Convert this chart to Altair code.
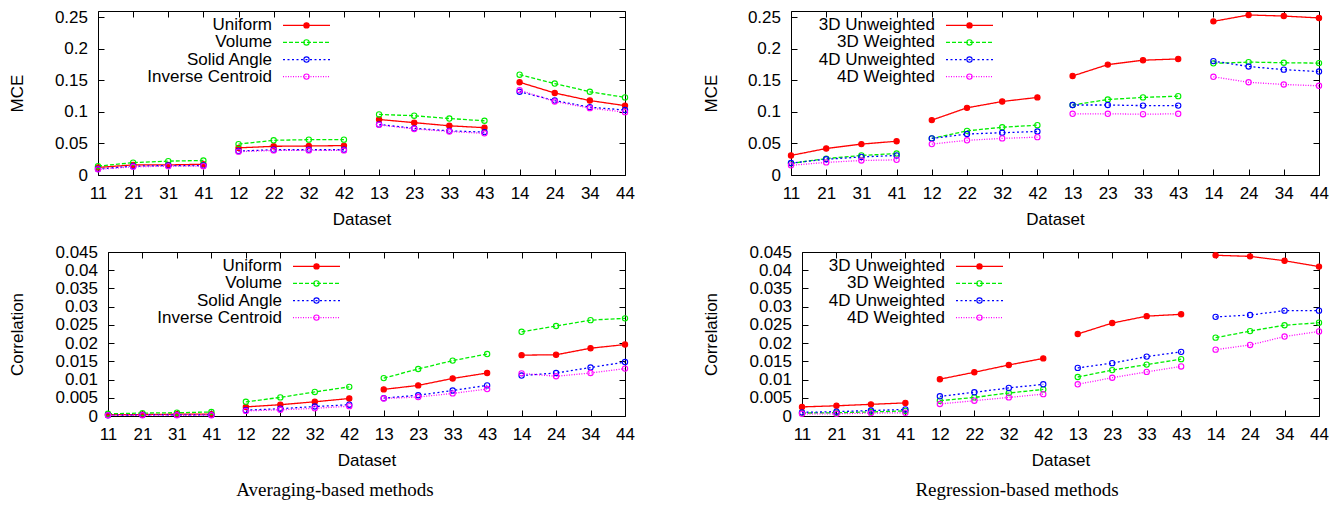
import altair as alt
import pandas as pd

# Dataset ids along the x axis; the second digit is the block that a line segment belongs to
datasets = ["11", "21", "31", "41", "12", "22", "32", "42",
            "13", "23", "33", "43", "14", "24", "34", "44"]

avg_names = ["Uniform", "Volume", "Solid Angle", "Inverse Centroid"]
reg_names = ["3D Unweighted", "3D Weighted", "4D Unweighted", "4D Weighted"]

# Averaging-based methods, MCE
uniform_mce = [0.012, 0.016, 0.016, 0.017, 0.043, 0.0455, 0.046, 0.0466,
               0.088, 0.083, 0.078, 0.075, 0.147, 0.130, 0.118, 0.110]
volume_mce = [0.014, 0.0196, 0.022, 0.023, 0.049, 0.055, 0.056, 0.056,
              0.096, 0.094, 0.0895, 0.086, 0.159, 0.145, 0.132, 0.123]
solid_mce = [0.0095, 0.014, 0.015, 0.015, 0.038, 0.040, 0.040, 0.040,
             0.080, 0.074, 0.070, 0.068, 0.132, 0.118, 0.1075, 0.103]
inverse_mce = [0.009, 0.013, 0.014, 0.014, 0.037, 0.039, 0.039, 0.039,
               0.0795, 0.073, 0.069, 0.066, 0.1345, 0.1165, 0.106, 0.0996]

# Regression-based methods, MCE
u3_mce = [0.031, 0.042, 0.049, 0.0535, 0.087, 0.1065, 0.1165, 0.123,
          0.157, 0.175, 0.182, 0.184, 0.2436, 0.2537, 0.252, 0.249]
w3_mce = [0.0185, 0.026, 0.031, 0.034, 0.058, 0.070, 0.0757, 0.079,
          0.111, 0.1197, 0.123, 0.125, 0.177, 0.179, 0.178, 0.1774]
u4_mce = [0.019, 0.025, 0.0286, 0.031, 0.058, 0.065, 0.067, 0.069,
          0.111, 0.111, 0.110, 0.110, 0.1806, 0.172, 0.167, 0.164]
w4_mce = [0.0153, 0.020, 0.023, 0.024, 0.049, 0.055, 0.058, 0.060,
          0.097, 0.097, 0.0964, 0.097, 0.1557, 0.147, 0.1435, 0.1414]

# Averaging-based methods, correlation
uniform_corr = [0.0004, 0.0004, 0.0005, 0.0005, 0.0025, 0.0031, 0.0039, 0.0048,
                0.0073, 0.0084, 0.0103, 0.0118, 0.0167, 0.0168, 0.0186, 0.0196]
volume_corr = [0.0006, 0.0008, 0.0009, 0.0011, 0.0039, 0.0051, 0.0066, 0.0080,
               0.0104, 0.0129, 0.0152, 0.0170, 0.0231, 0.0247, 0.0263, 0.0268]
solid_corr = [0.0002, 0.0003, 0.0003, 0.0003, 0.0016, 0.0020, 0.0026, 0.0031,
              0.0049, 0.0057, 0.0070, 0.0084, 0.0111, 0.0118, 0.0133, 0.0148]
inverse_corr = [0.0002, 0.0002, 0.0002, 0.0002, 0.0014, 0.0017, 0.0021, 0.0027,
                0.0048, 0.0052, 0.0062, 0.0074, 0.0117, 0.0109, 0.0118, 0.0130]

# Regression-based methods, correlation
u3_corr = [0.0025, 0.0028, 0.0032, 0.0036, 0.0101, 0.0120, 0.0140, 0.0158,
           0.0225, 0.0255, 0.0274, 0.0279, 0.0441, 0.0438, 0.0426, 0.0410]
w3_corr = [0.0008, 0.0009, 0.0011, 0.0014, 0.0042, 0.0051, 0.0063, 0.0073,
           0.0107, 0.0126, 0.0141, 0.0156, 0.0215, 0.0233, 0.0249, 0.0256]
u4_corr = [0.0010, 0.0012, 0.0015, 0.0018, 0.0054, 0.0065, 0.0077, 0.0087,
           0.0132, 0.0145, 0.0163, 0.0176, 0.0272, 0.0277, 0.0289, 0.0289]
w4_corr = [0.0006, 0.0006, 0.0008, 0.0009, 0.0033, 0.0042, 0.0051, 0.0060,
           0.0087, 0.0105, 0.0121, 0.0136, 0.0182, 0.0195, 0.0218, 0.0232]

mce_ticks = [0, 0.05, 0.1, 0.15, 0.2, 0.25]
corr_ticks = [0, 0.005, 0.01, 0.015, 0.02, 0.025, 0.03, 0.035, 0.04, 0.045]

colors = ["#ff0000", "#00ee00", "#0000ff", "#ff00ff"]
dashes = [[1, 0], [4, 2], [2, 2.5], [1, 1.5]]
fills = ["#ff0000", "transparent", "transparent", "transparent"]

FONT = "Liberation Sans"
SERIF = "Liberation Serif"
H = 164


def long_table(names, series):
    rows = []
    for name, vals in zip(names, series):
        for ds, v in zip(datasets, vals):
            rows.append({"series": name, "dataset": ds, "block": ds[1], "value": v})
    return pd.DataFrame(rows)


def panel(names, series, y_title, y_max, y_ticks, width, title_x, key_right,
          caption=None, caption_dx=0):
    df = long_table(names, series)
    color = alt.Color("series:N", scale=alt.Scale(domain=names, range=colors), legend=None)
    dash = alt.StrokeDash("series:N", scale=alt.Scale(domain=names, range=dashes), legend=None)
    fill = alt.Fill("series:N", scale=alt.Scale(domain=names, range=fills), legend=None)

    x = alt.X(
        "dataset:O", sort=datasets,
        scale=alt.Scale(type="point", padding=0),
        axis=alt.Axis(
            title="Dataset", grid=True, gridDash=[6, H - 12], gridColor="black",
            gridWidth=1, gridOpacity=1, domain=False, ticks=False, tickSize=0,
            labelAngle=0, labelPadding=23.5, labelBaseline="alphabetic",
            labelOverlap=False, titleY=49, titleBaseline="alphabetic",
        ),
    )
    y_scale = alt.Scale(domain=[0, y_max], nice=False, zero=True)
    y = alt.Y(
        "value:Q", scale=y_scale,
        axis=alt.Axis(
            values=y_ticks, format="~g", title=y_title, grid=True,
            gridDash=[6, width - 12], gridColor="black", gridWidth=1, gridOpacity=1,
            domain=False, ticks=False, tickSize=0, labelPadding=10.5,
            labelOverlap=False, titleX=title_x, titleY=H / 2,
            titleBaseline="middle", titleAngle=270,
        ),
    )
    y_plain = alt.Y("value:Q", scale=y_scale, axis=None)

    base = alt.Chart(df)
    lines = base.mark_line(strokeWidth=1.3).encode(
        x=x, y=y, color=color, strokeDash=dash, detail="block:N")
    points = base.mark_point(shape="circle", size=28, strokeWidth=1.1,
                             filled=False, opacity=1).encode(
        x=x, y=y_plain, color=color, fill=fill)

    # key in the upper right corner: label, line sample, marker
    key = alt.Chart(pd.DataFrame({"series": names}))
    ky = alt.Y("series:N", sort=names,
               scale=alt.Scale(type="point", domain=names, range=[14.4, 65.6], padding=0),
               axis=None)
    key_text = key.mark_text(align="right", baseline="middle", font=FONT,
                             fontSize=17, color="black").encode(
        x=alt.value(key_right), y=ky, text="series:N")
    key_line = key.mark_rule(strokeWidth=1.3).encode(
        x=alt.value(key_right + 11), x2=alt.value(key_right + 58), y=ky,
        color=color, strokeDash=dash)
    key_mark = key.mark_point(shape="circle", size=28, strokeWidth=1.1,
                              filled=False, opacity=1).encode(
        x=alt.value(key_right + 34.5), y=ky, color=color, fill=fill)

    chart = alt.layer(lines, points, key_line, key_mark, key_text).resolve_scale(
        y="independent").properties(width=width, height=H)
    if caption:
        chart = chart.properties(title=alt.TitleParams(
            text=caption, orient="bottom", anchor="middle", frame="group",
            font=SERIF, fontSize=19, fontWeight="normal", color="black",
            baseline="alphabetic", offset=28, dx=caption_dx))
    return chart


tl = panel(avg_names, [uniform_mce, volume_mce, solid_mce, inverse_mce],
           "MCE", 0.26, mce_ticks, 527, -81, 174)
tr = panel(reg_names, [u3_mce, w3_mce, u4_mce, w4_mce],
           "MCE", 0.26, mce_ticks, 528, -80, 144)
bl = panel(avg_names, [uniform_corr, volume_corr, solid_corr, inverse_corr],
           "Correlation", 0.045, corr_ticks, 517, -91, 174,
           caption="Averaging-based methods", caption_dx=-31.5)
br = panel(reg_names, [u3_corr, w3_corr, u4_corr, w4_corr],
           "Correlation", 0.045, corr_ticks, 517, -91, 143,
           caption="Regression-based methods", caption_dx=-43.5)


def spacer():
    return alt.Chart(pd.DataFrame({"s": [0]})).mark_rule(
        opacity=0, strokeWidth=0).encode(
        x=alt.value(0), x2=alt.value(1), y=alt.value(0)).properties(
        width=1, height=1, view=alt.ViewBackground(stroke="transparent"))


row1 = alt.hconcat(spacer(), alt.hconcat(tl, tr, spacing=66), spacing=0)
row2 = alt.hconcat(spacer(), alt.hconcat(bl, br, spacing=66), spacing=0)

chart = alt.vconcat(row1, row2, spacing=14).properties(
    padding={"left": 4, "top": 7, "right": 0, "bottom": 0},
    background="white",
).configure_view(
    stroke="black", strokeWidth=1,
).configure_axis(
    labelFont=FONT, titleFont=FONT, labelFontSize=17, titleFontSize=17,
    labelColor="black", titleColor="black", titleFontWeight="normal",
)

chart.save("out.html", embed_options={"renderer": "svg", "actions": False})
